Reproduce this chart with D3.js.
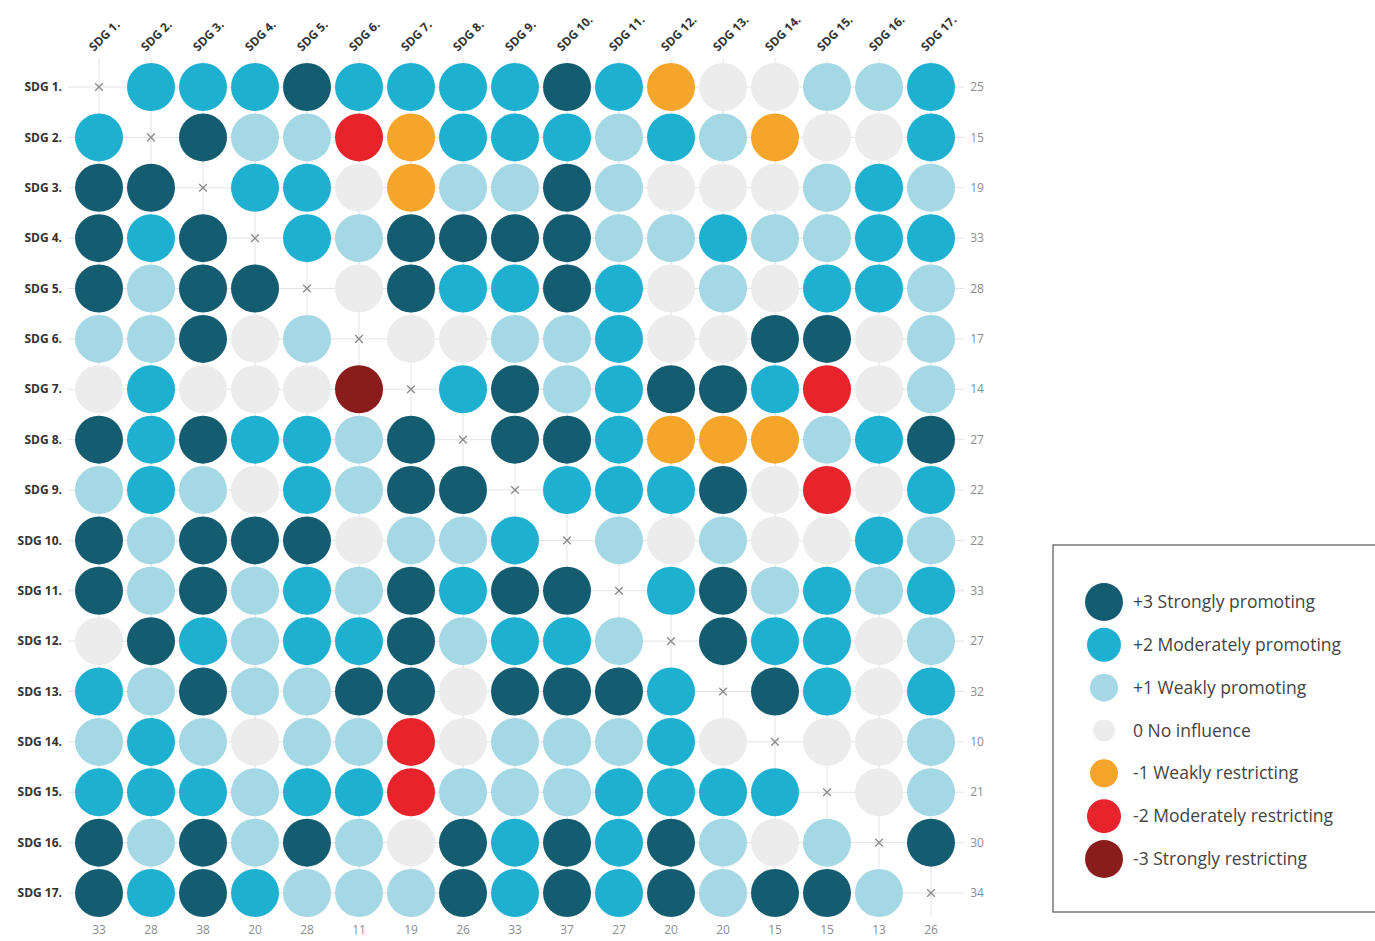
<!DOCTYPE html>
<html>
<head>
<meta charset="utf-8">
<script src="https://cdn.jsdelivr.net/npm/d3@7"></script>
<style>
  body { margin: 0; background: #fff; }
  text { font-family: "Open Sans", "Noto Sans", sans-serif; }
</style>
</head>
<body>
<svg id="chart" width="1375" height="941"></svg>
<script>
const goals = d3.range(1, 18).map((d) => `SDG ${d}.`);

// influence of row goal on column goal; null = diagonal
const scores = [
  [null, 2, 2, 2, 3, 2, 2, 2, 2, 3, 2, -1, 0, 0, 1, 1, 2],
  [2, null, 3, 1, 1, -2, -1, 2, 2, 2, 1, 2, 1, -1, 0, 0, 2],
  [3, 3, null, 2, 2, 0, -1, 1, 1, 3, 1, 0, 0, 0, 1, 2, 1],
  [3, 2, 3, null, 2, 1, 3, 3, 3, 3, 1, 1, 2, 1, 1, 2, 2],
  [3, 1, 3, 3, null, 0, 3, 2, 2, 3, 2, 0, 1, 0, 2, 2, 1],
  [1, 1, 3, 0, 1, null, 0, 0, 1, 1, 2, 0, 0, 3, 3, 0, 1],
  [0, 2, 0, 0, 0, -3, null, 2, 3, 1, 2, 3, 3, 2, -2, 0, 1],
  [3, 2, 3, 2, 2, 1, 3, null, 3, 3, 2, -1, -1, -1, 1, 2, 3],
  [1, 2, 1, 0, 2, 1, 3, 3, null, 2, 2, 2, 3, 0, -2, 0, 2],
  [3, 1, 3, 3, 3, 0, 1, 1, 2, null, 1, 0, 1, 0, 0, 2, 1],
  [3, 1, 3, 1, 2, 1, 3, 2, 3, 3, null, 2, 3, 1, 2, 1, 2],
  [0, 3, 2, 1, 2, 2, 3, 1, 2, 2, 1, null, 3, 2, 2, 0, 1],
  [2, 1, 3, 1, 1, 3, 3, 0, 3, 3, 3, 2, null, 3, 2, 0, 2],
  [1, 2, 1, 0, 1, 1, -2, 0, 1, 1, 1, 2, 0, null, 0, 0, 1],
  [2, 2, 2, 1, 2, 2, -2, 1, 1, 1, 2, 2, 2, 2, null, 0, 1],
  [3, 1, 3, 1, 3, 1, 0, 3, 2, 3, 2, 3, 1, 0, 1, null, 3],
  [3, 2, 3, 2, 1, 1, 1, 3, 2, 3, 2, 3, 1, 3, 3, 1, null]
];

const rowTotals = [25, 15, 19, 33, 28, 17, 14, 27, 22, 22, 33, 27, 32, 10, 21, 30, 34];
const colTotals = [33, 28, 38, 20, 28, 11, 19, 26, 33, 37, 27, 20, 20, 15, 15, 13, 26];

const levels = [3, 2, 1, 0, -1, -2, -3];
const levelLabels = [
  '+3 Strongly promoting',
  '+2 Moderately promoting',
  '+1 Weakly promoting',
  '0 No influence',
  '-1 Weakly restricting',
  '-2 Moderately restricting',
  '-3 Strongly restricting'
];

const svg = d3.select('#chart');

const x = d3.scalePoint().domain(goals).range([99, 931]);
const y = d3.scalePoint().domain(goals).range([87, 893]);
const color = d3
  .scaleOrdinal()
  .domain(levels)
  .range(['#145c70', '#1eb0d1', '#a4d8e5', '#ececec', '#f4a52a', '#e7242b', '#8a1c1c']);

const cells = [];
scores.forEach((row, i) => {
  row.forEach((v, j) => {
    cells.push({ from: goals[i], to: goals[j], v: v });
  });
});

// faint guide lines
const grid = svg.append('g').attr('stroke', '#e4e4e4').attr('stroke-width', 1);
grid
  .selectAll('line.h')
  .data(goals)
  .enter()
  .append('line')
  .attr('x1', 68)
  .attr('x2', 964)
  .attr('y1', (d) => y(d))
  .attr('y2', (d) => y(d));
grid
  .selectAll('line.v')
  .data(goals)
  .enter()
  .append('line')
  .attr('x1', (d) => x(d))
  .attr('x2', (d) => x(d))
  .attr('y1', 58)
  .attr('y2', 916);

// circles
svg
  .append('g')
  .selectAll('circle')
  .data(cells.filter((d) => d.v !== null))
  .enter()
  .append('circle')
  .attr('cx', (d) => x(d.to))
  .attr('cy', (d) => y(d.from))
  .attr('r', 24)
  .attr('fill', (d) => color(d.v));

// diagonal crosses
const cross = d3.symbol().type(d3.symbolX).size(40);
svg
  .append('g')
  .selectAll('path')
  .data(cells.filter((d) => d.v === null))
  .enter()
  .append('path')
  .attr('transform', (d) => `translate(${x(d.to)},${y(d.from)})`)
  .attr('d', cross)
  .attr('fill', 'none')
  .attr('stroke', '#8a8a8a')
  .attr('stroke-width', 1.3);

// row labels
svg
  .append('g')
  .selectAll('text')
  .data(goals)
  .enter()
  .append('text')
  .attr('x', 62)
  .attr('y', (d) => y(d))
  .attr('dy', '0.35em')
  .attr('text-anchor', 'end')
  .attr('font-size', 12)
  .attr('font-weight', 700)
  .attr('fill', '#333')
  .text((d) => d);

// column labels
svg
  .append('g')
  .selectAll('text')
  .data(goals)
  .enter()
  .append('text')
  .attr('transform', (d) => `translate(${x(d) - 5},52) rotate(-45)`)
  .attr('font-size', 12)
  .attr('font-weight', 700)
  .attr('fill', '#333')
  .text((d) => d);

// row totals
svg
  .append('g')
  .selectAll('text')
  .data(rowTotals)
  .enter()
  .append('text')
  .attr('x', 977)
  .attr('y', (d, i) => y(goals[i]))
  .attr('dy', '0.35em')
  .attr('text-anchor', 'middle')
  .attr('font-size', 12)
  .attr('fill', '#8c8c8c')
  .text((d) => d);

// column totals
svg
  .append('g')
  .selectAll('text')
  .data(colTotals)
  .enter()
  .append('text')
  .attr('x', (d, i) => x(goals[i]))
  .attr('y', 930)
  .attr('dy', '0.35em')
  .attr('text-anchor', 'middle')
  .attr('font-size', 12)
  .attr('fill', '#8c8c8c')
  .text((d) => d);

// legend
const legendRadius = [19, 17, 14, 11, 14, 17, 19];
const legendY = d3.scalePoint().domain(levels).range([602, 859]);

const legend = svg.append('g');
legend
  .append('rect')
  .attr('x', 1053)
  .attr('y', 545)
  .attr('width', 340)
  .attr('height', 367)
  .attr('fill', '#fff')
  .attr('stroke', '#555')
  .attr('stroke-width', 1.2);

const items = legend
  .selectAll('g.item')
  .data(levels)
  .enter()
  .append('g')
  .attr('transform', (d) => `translate(0,${legendY(d)})`);

items
  .append('circle')
  .attr('cx', 1104)
  .attr('r', (d, i) => legendRadius[i])
  .attr('fill', (d) => color(d));

items
  .append('text')
  .attr('x', 1133)
  .attr('dy', '0.35em')
  .attr('font-size', 17.5)
  .attr('fill', '#444')
  .text((d, i) => levelLabels[i]);
</script>
</body>
</html>
